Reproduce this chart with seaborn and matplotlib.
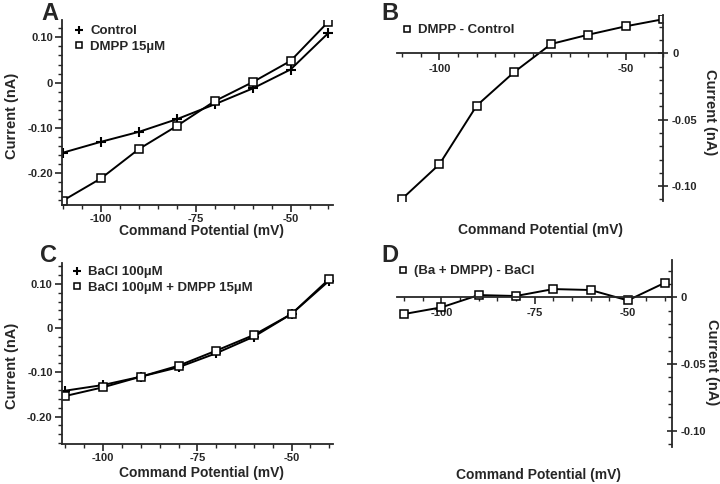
import pandas as pd
import seaborn as sns
import matplotlib.pyplot as plt
from matplotlib.lines import Line2D
from matplotlib.ticker import MultipleLocator, FixedLocator

# Command potentials (mV)
voltage = [-110, -100, -90, -80, -70, -60, -50, -40]

# Panel A currents (nA)
control = [-0.155, -0.131, -0.109, -0.081, -0.048, -0.013, 0.029, 0.110]
dmpp = [-0.261, -0.212, -0.147, -0.096, -0.041, 0.001, 0.048, 0.135]

# Panel B difference
dmpp_minus_control = [-0.1095, -0.0835, -0.0394, -0.0143, 0.0070, 0.0140, 0.0203, 0.0256]

# Panel C currents (nA)
bacl = [-0.1414, -0.1286, -0.1098, -0.0886, -0.0569, -0.0194, 0.0319, 0.1071]
bacl_dmpp = [-0.1534, -0.1338, -0.1098, -0.0850, -0.0510, -0.0156, 0.0319, 0.1110]

# Panel D difference
ba_dmpp_minus_bacl = [-0.0125, -0.0075, 0.0017, 0.0010, 0.0062, 0.0055, -0.0023, 0.0110]

sns.set_theme(style="ticks")
plt.rcParams["font.family"] = ["Liberation Sans", "DejaVu Sans"]
plt.rcParams["font.weight"] = "bold"
plt.rcParams["axes.labelweight"] = "bold"

fig = plt.figure(figsize=(7.2, 4.84), dpi=100)

# seaborn paints marker edges white by default, so set them explicitly
plus_kw = dict(marker="+", markersize=6.5, markeredgewidth=1.5, markeredgecolor="black",
               color="black", linewidth=1.4)
square_kw = dict(marker="s", markersize=5.5, markeredgewidth=1.1, markerfacecolor="white",
                 markeredgecolor="black", color="black", linewidth=1.4)


def draw(ax, y, kw):
    df = pd.DataFrame({"V": voltage, "I": y})
    sns.lineplot(data=df, x="V", y="I", ax=ax, **kw)


def handle(kw):
    h = dict(kw)
    h.pop("linewidth", None)
    h["markersize"] = h["markersize"] * 0.8
    return Line2D([], [], linestyle="none", **h)


def left_style(ax, xlim, ylim, xlab_pos, ylab_pos):
    ax.set_xlim(*xlim)
    ax.set_ylim(*ylim)
    sns.despine(ax=ax)
    for s in ["left", "bottom"]:
        ax.spines[s].set_linewidth(1.3)
    ax.xaxis.set_major_locator(FixedLocator([-100, -75, -50]))
    ax.xaxis.set_minor_locator(MultipleLocator(5))
    ax.yaxis.set_major_locator(FixedLocator([-0.2, -0.1, 0, 0.1]))
    ax.yaxis.set_minor_locator(MultipleLocator(0.02))
    ax.set_yticklabels(["-0.20", "-0.10", "0", "0.10"])
    ax.set_xticklabels(["-100", "-75", "-50"])
    ax.tick_params(which="major", length=5, width=1.2, labelsize=8, pad=1.5)
    ax.tick_params(which="minor", length=3, width=1.0)
    ax.set_xlabel("Command Potential (mV)", fontsize=10, va="center")
    ax.set_ylabel("Current (nA)", fontsize=10.5, va="center")
    ax.xaxis.set_label_coords(*xlab_pos)
    ax.yaxis.set_label_coords(*ylab_pos)


def right_style(ax, xlim, ylim, xticks, xlab_pos, ylab_pos):
    ax.set_xlim(*xlim)
    ax.set_ylim(*ylim)
    ax.spines["top"].set_visible(False)
    ax.spines["left"].set_visible(False)
    ax.spines["bottom"].set_position(("data", 0))
    for s in ["right", "bottom"]:
        ax.spines[s].set_linewidth(1.3)
    ax.yaxis.tick_right()
    ax.yaxis.set_label_position("right")
    ax.xaxis.set_major_locator(FixedLocator(xticks))
    ax.xaxis.set_minor_locator(MultipleLocator(5))
    ax.set_xticklabels([str(t) for t in xticks])
    ax.yaxis.set_major_locator(FixedLocator([-0.10, -0.05, 0]))
    ax.yaxis.set_minor_locator(MultipleLocator(0.01))
    ax.set_yticklabels(["-0.10", "-0.05", "0"])
    ax.tick_params(axis="x", which="major", length=5, width=1.2, labelsize=8, pad=3)
    ax.tick_params(axis="x", which="minor", length=3, width=1.0)
    ax.tick_params(axis="y", which="major", direction="inout", length=7, width=1.2,
                   labelsize=8, pad=3)
    ax.tick_params(axis="y", which="minor", direction="in", length=3, width=1.0)
    ax.set_xlabel("Command Potential (mV)", fontsize=10, va="center")
    ax.set_ylabel("Current (nA)", fontsize=10.5, rotation=270, va="center")
    ax.xaxis.set_label_coords(*xlab_pos)
    ax.yaxis.set_label_coords(*ylab_pos)


leg_kw = dict(loc="upper left", frameon=False, fontsize=9.5, handlelength=1.0,
              handletextpad=0.4, labelspacing=0.25, borderpad=0, borderaxespad=0,
              bbox_transform=fig.transFigure)

# ---- Panel A
axA = fig.add_axes([0.0861, 0.5764, 0.3764, 0.3822])
draw(axA, control, plus_kw)
draw(axA, dmpp, square_kw)
left_style(axA, (-110.3, -38.8), (-0.271, 0.1385), (0.515, -0.142), (-0.185, 0.48))
axA.legend([handle(plus_kw), handle(square_kw)], ["Control", "DMPP 15\u00b5M"],
           bbox_to_anchor=(72 / 720, 1 - 25 / 484), **leg_kw)

# ---- Panel B
axB = fig.add_axes([0.5514, 0.5853, 0.3694, 0.3837])
draw(axB, dmpp_minus_control, square_kw)
right_style(axB, (-111.4, -40), (-0.111, 0.0288), [-100, -50], (0.538, -0.158), (1.177, 0.475))
axB.legend([handle(square_kw)], ["DMPP - Control"],
           bbox_to_anchor=(400 / 720, 1 - 24 / 484), **leg_kw)

# ---- Panel C
axC = fig.add_axes([0.0857, 0.0826, 0.3768, 0.374])
draw(axC, bacl, plus_kw)
draw(axC, bacl_dmpp, square_kw)
left_style(axC, (-111, -39), (-0.262, 0.147), (0.515, -0.16), (-0.183, 0.431))
axC.legend([handle(plus_kw), handle(square_kw)],
           ["BaCl 100\u00b5M", "BaCl 100\u00b5M + DMPP 15\u00b5M"],
           bbox_to_anchor=(70 / 720, 1 - 266 / 484), **leg_kw)

# ---- Panel D
axD = fig.add_axes([0.551, 0.0771, 0.382, 0.3857])
draw(axD, ba_dmpp_minus_bacl, square_kw)
right_style(axD, (-112, -38.2), (-0.112, 0.028), [-100, -75, -50], (0.514, -0.152), (1.147, 0.451))
axD.legend([handle(square_kw)], ["(Ba + DMPP) - BaCl"],
           bbox_to_anchor=(396 / 720, 1 - 265 / 484), **leg_kw)

# panel letters
for letter, (x, y) in {"A": (41, 20), "B": (381, 20), "C": (40, 262), "D": (381, 262)}.items():
    fig.text(x / 720, 1 - y / 484, letter, fontsize=17, fontweight="bold", va="baseline")

fig.savefig("out.png", dpi=100)
